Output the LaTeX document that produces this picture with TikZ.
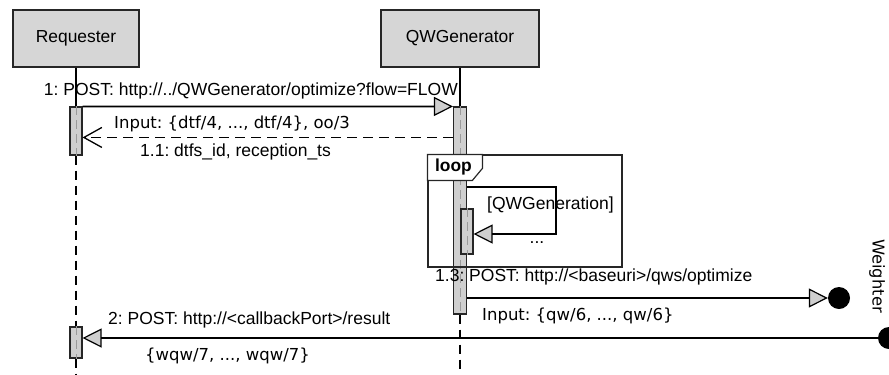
\documentclass[tikz,border=0pt]{standalone}
\usepackage{fontspec}
\setmainfont{Liberation Sans}
\newfontfamily\lucida{DejaVu Sans}
\usetikzlibrary{arrows.meta,calc}
\definecolor{boxgray}{HTML}{D6D6D6}
\definecolor{bargray}{HTML}{CFCFCF}
\definecolor{lifegray}{HTML}{9A9A9A}
\frenchspacing
\begin{document}
\begin{tikzpicture}[x=1bp,y=-1bp,
  actor/.style={draw=black!85, line width=1.2bp, fill=boxgray, minimum height=57bp, inner sep=0, font=\fontsize{17.4bp}{20bp}\selectfont},
  actbar/.style={draw=black!85, line width=1.1bp, fill=bargray, inner sep=0, minimum width=12bp},
  life/.style={line width=1.1bp, dash pattern=on 9bp off 6bp},
  lifein/.style={draw=lifegray, line width=1bp, dash pattern=on 9bp off 5bp},
  msg/.style={line width=1.6bp, -{Triangle[length=19bp,width=19bp,fill=bargray,line width=1.2bp]}},
  ret/.style={line width=1.3bp, dash pattern=on 10bp off 6bp, -{Straight Barb[length=18bp,width=20bp,line width=1.3bp]}},
  lbl/.style={inner sep=0, anchor=base west, font=\fontsize{17.5bp}{20bp}\selectfont},
  dat/.style={inner sep=0, anchor=base west, font=\lucida\fontsize{16.5bp}{20bp}\selectfont},
  endpt/.style={circle, fill=black, inner sep=0, minimum size=22bp},
  frm/.style={draw=black!85, line width=1.2bp, inner sep=0}
]
\useasboundingbox (0,0) rectangle (889,374);
% actors
\node[actor, minimum width=126bp] (req) at (76,38.5) {Requester};
\node[actor, minimum width=158bp] (qw) at (460,38.5) {QWGenerator};
% activation bars
\node[actbar, minimum height=48bp] (rb1) at (76,131) {};
\node[actbar, minimum height=31bp] (rb2) at (76,342.5) {};
\node[actbar, minimum width=13bp, minimum height=207bp] (qb) at (460,210.5) {};
\coordinate (reqend) at (76,374);
\coordinate (qwend) at (460,374);
% lifelines
\draw[line width=1.1bp] (req.south) -- (rb1.north);
\draw[life] (rb1.south) -- (rb2.north);
\draw[life] (rb2.south) -- (reqend);
\draw[line width=1.1bp] (qw.south) -- (qb.north);
\draw[life] (qb.south) -- (qwend);
\draw[lifein] (rb1.north) -- (rb1.south);
\draw[lifein] (rb2.north) -- (rb2.south);
\draw[lifein] (qb.north) -- (qb.south);
% nested bar
\node[actbar, minimum height=45bp] (nb) at (467,231.5) {};
\draw[lifein] (nb.north) -- (nb.south);
% loop frame
\node[frm, minimum width=194bp, minimum height=112bp] (loopf) at (525,211) {};
\draw[frm, fill=white] (loopf.north west) -- ++(55,0) -- ++(0,14) -- ++(-10,12) -- ++(-45,0) -- cycle;
\node[inner sep=0, font=\bfseries\fontsize{17.4bp}{20bp}\selectfont] (looplbl) at ($(loopf.north west)+(26,13)$) {loop};
% message 1
\draw[msg] (rb1.north east) -- (qb.north west);
\node[lbl, anchor=base east] (m1) at (458,95) {1: POST: http://../QWGenerator/optimize?flow=FLOW};
\node[dat] (m1in) at (114,128) {Input: \{dtf/4, ..., dtf/4\}, oo/3};
% message 1.1
\coordinate (m11s) at ([yshift=-31bp]qb.north west);
\draw[ret] (m11s) -- (m11s -| rb1.east);
\node[lbl] (m11) at (140,156) {1.1: dtfs\_id, reception\_ts};
% self message
\coordinate (selfr) at (556,187);
\coordinate (selfb) at (556,234);
\draw[msg] (qb.east |- selfr) -- (selfr) -- (selfb) -- (nb.east |- selfb);
\node[lbl] (guard) at (487,209) {[QWGeneration]};
\node[lbl, anchor=base] (dots) at (537,243) {...};
% message 1.3
\node[endpt] (wt1) at (839,298) {};
\draw[msg] (qb.east |- wt1) -- (wt1.west);
\node[lbl] (m13) at (435,281) {1.3: POST: http://<baseuri>/qws/optimize};
\node[dat] (m13in) at (482,320) {Input: \{qw/6, ..., qw/6\}};
\node[inner sep=0, rotate=-90, font=\lucida\fontsize{16.3bp}{20bp}\selectfont] (wlbl) at (877,276) {Weighter};
% message 2
\node[endpt] (wt2) at (889,338) {};
\draw[msg] (wt2) -- (wt2 -| rb2.east);
\node[lbl] (m2) at (108,324) {2: POST: http://<callbackPort>/result};
\node[dat] (m2out) at (145,360) {\{wqw/7, ..., wqw/7\}};
\end{tikzpicture}
\end{document}
